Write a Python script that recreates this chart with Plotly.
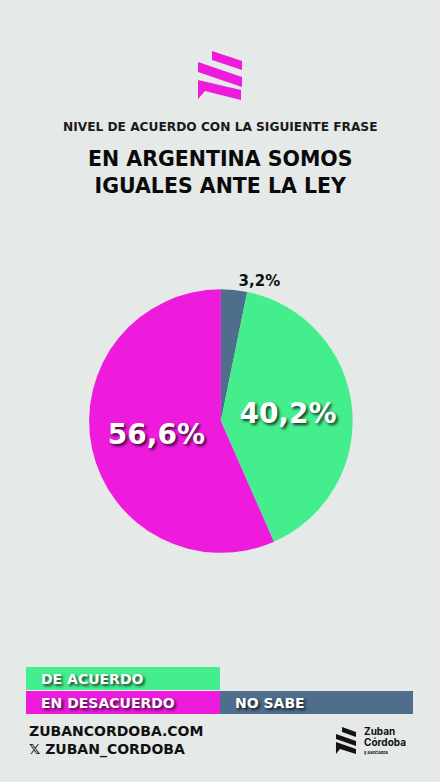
import plotly.graph_objects as go

# datos
categorias = ["NO SABE", "DE ACUERDO", "EN DESACUERDO"]
valores = [3.2, 40.2, 56.6]
etiquetas = ["3,2%", "40,2%", "56,6%"]
colores = ["#4E6E8C", "#45EE8C", "#EE1BDD"]

subtitulo = "NIVEL DE ACUERDO CON LA SIGUIENTE FRASE"
titulo = "EN ARGENTINA SOMOS<br>IGUALES ANTE LA LEY"
web = "ZUBANCORDOBA.COM"
red = "𝕏 ZUBAN_CORDOBA"

FONT = "DejaVu Sans, sans-serif"
FONT2 = "Inter, Open Sans, sans-serif"
BG = "#E5E9E8"
SHADOW = "2px 2px 3px rgba(0,0,0,0.75)"

fig = go.Figure()

fig.add_trace(go.Pie(
    labels=categorias,
    values=valores,
    text=etiquetas,
    textinfo="text",
    sort=False,
    direction="clockwise",
    rotation=0,
    marker=dict(colors=colores, line=dict(width=0)),
    textposition=["outside", "inside", "inside"],
    insidetextorientation="horizontal",
    insidetextfont=dict(family=FONT, size=28, color="white", weight="bold", shadow=SHADOW),
    outsidetextfont=dict(family=FONT, size=15, color="#111111", weight="bold"),
    domain=dict(x=[0.202, 0.802], y=[0.293, 0.630]),
    showlegend=False,
    hoverinfo="label+percent",
))


def paper(x, y):
    return x / 440, 1 - y / 782


def poly(pts, color):
    d = "M " + " L ".join(f"{paper(x, y)[0]:.4f},{paper(x, y)[1]:.4f}" for x, y in pts) + " Z"
    fig.add_shape(type="path", path=d, xref="paper", yref="paper",
                  fillcolor=color, line=dict(width=0))


def rect(x0, y0, x1, y1, color):
    a = paper(x0, y0)
    b = paper(x1, y1)
    fig.add_shape(type="rect", xref="paper", yref="paper", x0=a[0], y0=b[1], x1=b[0], y1=a[1],
                  fillcolor=color, line=dict(width=0))


# logo superior
MAG = "#EE1BDD"
poly([(212, 51), (242, 61), (242, 70), (212, 60)], MAG)
poly([(198, 62), (242, 77), (242, 87), (198, 72)], MAG)
poly([(198, 80), (241, 90), (241, 100), (205, 91), (198, 99)], MAG)

# logo inferior
NEG = "#141414"
poly([(342, 727), (356, 732), (356, 737), (342, 732)], NEG)
poly([(336, 734), (356, 741), (356, 746), (336, 739)], NEG)
poly([(336, 742), (356, 749), (356, 754), (340, 749), (336, 754)], NEG)

# leyenda en barras
rect(26, 667, 220, 690, colores[1])
rect(26, 691, 220, 714, colores[2])
rect(220, 691, 413, 714, colores[0])


def txt(x, y, s, size, color="#111111", weight="bold", anchor="left", shadow=None, family=FONT):
    px_, py_ = paper(x, y)
    f = dict(family=family, size=size, color=color, weight=weight)
    if shadow:
        f["shadow"] = shadow
    fig.add_annotation(x=px_, y=py_, xref="paper", yref="paper", text=s, showarrow=False,
                       xanchor=anchor, yanchor="middle", font=f, align="center")


txt(220, 127, subtitulo, 12.2, color="#1a1a1a", anchor="center")
txt(220, 173, titulo, 20.5, color="#0a0a0a", anchor="center")

txt(39, 679, categorias[1], 14, color="white", shadow=SHADOW)
txt(39, 703, categorias[2], 14, color="white", shadow=SHADOW)
txt(233, 703, categorias[0], 14, color="white", shadow=SHADOW)

txt(27, 731, web, 14, color="#111111")
txt(27, 749, red, 14, color="#111111")

txt(362, 731, "Zuban", 10, color="#111111", family=FONT2)
txt(362, 742, "Córdoba", 10, color="#111111", family=FONT2)
txt(362, 752, "y Asociados", 4, color="#111111", family=FONT2)

fig.update_layout(
    width=440,
    height=782,
    margin=dict(l=0, r=0, t=0, b=0),
    paper_bgcolor=BG,
    plot_bgcolor=BG,
    font=dict(family=FONT),
)

fig.write_html("out.html", config={"displayModeBar": False},
               post_script="document.body.style.margin='0';")
